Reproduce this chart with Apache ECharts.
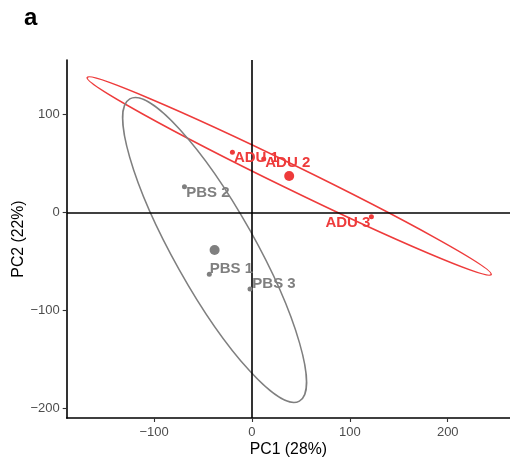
<!DOCTYPE html>
<html>
<head>
<meta charset="utf-8">
<script src="https://cdn.jsdelivr.net/npm/echarts@6/dist/echarts.min.js"></script>
<style>
html,body{margin:0;padding:0;background:#fff;}
#chart{width:510px;height:464px;}
</style>
</head>
<body>
<div id="chart"></div>
<script>
// ---- data ----
const groupNames = ['ADU', 'PBS'];
const aduNames = ['ADU 1', 'ADU 2', 'ADU 3'];
const aduPC1 = [-20, 12, 122];
const aduPC2 = [61.6, 54.7, -4.1];
const pbsNames = ['PBS 1', 'PBS 2', 'PBS 3'];
const pbsPC1 = [-43.6, -69, -2];
const pbsPC2 = [-62.9, 26.5, -77.9];
// ellipse parameters (semi-major, semi-minor, angle in degrees) per group
const ellipseMajor = [229.6, 177];
const ellipseMinor = [12.2, 41.3];
const ellipseAngle = [-26, -60.7];
const xTicks = [-100, 0, 100, 200];
const yTicks = [-200, -100, 0, 100];
const xTitle = 'PC1 (28%)';
const yTitle = 'PC2 (22%)';
const panelTag = 'a';

// ---- styles ----
const colors = ['#EE3B3B', '#7F7F7F'];
const FONT = "'Liberation Sans', Arial, sans-serif";
const mean = a => a.reduce((s, v) => s + v, 0) / a.length;
const fmt = v => String(v).replace('-', '\u2212');

const groups = [
  { names: aduNames, x: aduPC1, y: aduPC2 },
  { names: pbsNames, x: pbsPC1, y: pbsPC2 }
];
// label nudges (pixels) - styling, ggrepel-like placement
const nudges = [
  [[24, 6], [24, 4], [-23.5, 6.5]],
  [[22, -5], [23.5, 6], [24, -5.5]]
];

const series = [];
// ellipses
series.push({
  type: 'custom',
  coordinateSystem: 'cartesian2d',
  silent: true,
  z: 1,
  data: groups.map((g, i) => [mean(g.x), mean(g.y), ellipseMajor[i], ellipseMinor[i], ellipseAngle[i], i]),
  renderItem: function (params, api) {
    const c = api.coord([api.value(0), api.value(1)]);
    const rx = api.size([api.value(2), 0])[0];
    const ry = api.size([0, api.value(3)])[1];
    return {
      type: 'ellipse',
      x: c[0], y: c[1],
      rotation: api.value(4) * Math.PI / 180,
      shape: { cx: 0, cy: 0, rx: rx, ry: ry },
      style: { fill: 'none', stroke: colors[api.value(5)], lineWidth: 1.5 }
    };
  },
  markLine: {
    silent: true,
    symbol: 'none',
    label: { show: false },
    lineStyle: { color: '#000', width: 1.6, type: 'solid' },
    data: [{ xAxis: 0 }, { yAxis: 0 }],
    z: 2
  }
});

groups.forEach((g, i) => {
  // individual samples with labels
  series.push({
    type: 'scatter',
    name: groupNames[i],
    symbolSize: 5,
    z: 3,
    itemStyle: { color: colors[i], opacity: 1 },
    data: g.x.map((v, k) => ({
      value: [v, g.y[k]],
      name: g.names[k],
      label: { offset: nudges[i][k] }
    })),
    label: {
      show: true,
      position: 'inside',
      formatter: p => p.name,
      color: colors[i],
      fontFamily: FONT,
      fontWeight: 'bold',
      fontSize: 15
    }
  });
  // centroid
  series.push({
    type: 'scatter',
    symbolSize: 10,
    z: 3,
    itemStyle: { color: colors[i], opacity: 1 },
    data: [[mean(g.x), mean(g.y)]]
  });
});

const chart = echarts.init(document.getElementById('chart'), null, { renderer: 'canvas' });
chart.setOption({
  animation: false,
  backgroundColor: '#fff',
  title: {
    text: panelTag,
    left: 19, top: 1,
    textStyle: { fontFamily: FONT, fontWeight: 'bold', fontSize: 24, color: '#000' }
  },
  grid: { left: 66.7, right: 0, top: 60, bottom: 46, containLabel: false, outerBoundsMode: 'none' },
  xAxis: {
    type: 'value',
    min: -189.3, max: 263.6,
    name: xTitle,
    nameLocation: 'middle',
    nameGap: 24,
    nameMoveOverlap: false,
    nameTextStyle: { fontFamily: FONT, fontSize: 15.8, color: '#000' },
    splitLine: { show: false },
    axisLine: { show: true, onZero: false, lineStyle: { color: '#000', width: 1.6 } },
    axisTick: { show: true, length: 4, customValues: xTicks, lineStyle: { color: '#333', width: 1.1 } },
    axisLabel: { customValues: xTicks, formatter: fmt, margin: 8, fontFamily: FONT, fontSize: 13, color: '#4D4D4D' }
  },
  yAxis: {
    type: 'value',
    min: -209.5, max: 155.8,
    name: yTitle,
    nameLocation: 'middle',
    nameGap: 40,
    nameMoveOverlap: false,
    nameTextStyle: { fontFamily: FONT, fontSize: 15.8, color: '#000' },
    splitLine: { show: false },
    axisLine: { show: true, onZero: false, lineStyle: { color: '#000', width: 1.6 } },
    axisTick: { show: true, length: 4, customValues: yTicks, lineStyle: { color: '#333', width: 1.1 } },
    axisLabel: { customValues: yTicks, formatter: fmt, margin: 7, fontFamily: FONT, fontSize: 13, color: '#4D4D4D' }
  },
  series: series
});
</script>
</body>
</html>
